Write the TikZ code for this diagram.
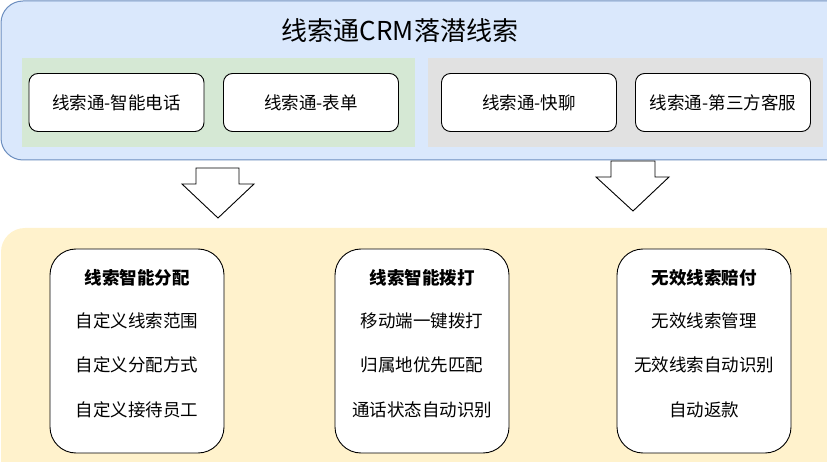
\documentclass[tikz,border=0pt]{standalone}
\usepackage{fontspec}
\setmainfont{Noto Sans CJK SC}
\usetikzlibrary{positioning}
\definecolor{blueFill}{HTML}{DAE8FC}
\definecolor{blueLine}{HTML}{6C8EBF}
\definecolor{greenFill}{HTML}{D5E8D4}
\definecolor{grayFill}{HTML}{E1E1E1}
\definecolor{yellowFill}{HTML}{FFF2CC}
\tikzset{
  card/.style={draw=black, fill=white, rounded corners=9pt, line width=0.9pt, minimum width=175pt, minimum height=58pt, inner sep=0pt, font=\fontsize{17.5pt}{20pt}\selectfont},
  panel/.style={draw=black, fill=white, rounded corners=26pt, line width=0.9pt, minimum width=174pt, minimum height=204pt, inner sep=0pt},
  headtxt/.style={font=\fontsize{17.5pt}{20pt}\selectfont\bfseries, inner sep=0pt},
  itemtxt/.style={font=\fontsize{17.5pt}{20pt}\selectfont, inner sep=0pt},
  blockarrow/.style={draw=black, fill=white, line width=0.9pt, line join=miter}
}
\begin{document}
\begin{tikzpicture}[x=1pt,y=-1pt]
\useasboundingbox (0,0) rectangle (827,462);
\clip (0,0) rectangle (827,462);
% top container
\draw[fill=blueFill, draw=blueLine, line width=1pt, rounded corners=22pt] (1,1) rectangle (860,160);
\node[font=\fontsize{26pt}{30pt}\selectfont, inner sep=0pt] (title) at (400,31) {线索通CRM落潜线索};
\fill[greenFill] (22,58) rectangle (415,147);
\fill[grayFill] (428,58) rectangle (823,147);
\node[card] (c1) at (116.5,102.5) {线索通-智能电话};
\node[card] (c2) at (311,102.5) {线索通-表单};
\node[card] (c3) at (529,102.5) {线索通-快聊};
\node[card] (c4) at (723,102.5) {线索通-第三方客服};
% bottom container
\fill[yellowFill, rounded corners=24pt] (1,228) rectangle (860,500);
% block arrows
\draw[blockarrow] (196,168) -- (239,168) -- (239,184) -- (254,184) -- (218,218) -- (182,184) -- (196,184) -- cycle;
\draw[blockarrow] (611,161) -- (655,161) -- (655,177) -- (669,177) -- (633,211) -- (596,177) -- (611,177) -- cycle;
% panels
\node[panel] (p1) at (137,351) {};
\node[panel] (p2) at (422,351) {};
\node[panel] (p3) at (704,351) {};
\node[headtxt] (h1) at (137,278) {线索智能分配};
\node[itemtxt] (a1) at (137,321) {自定义线索范围};
\node[itemtxt] (a2) at (137,365) {自定义分配方式};
\node[itemtxt] (a3) at (137,410) {自定义接待员工};
\node[headtxt] (h2) at (422,278) {线索智能拨打};
\node[itemtxt] (b1) at (422,321) {移动端一键拨打};
\node[itemtxt] (b2) at (422,365) {归属地优先匹配};
\node[itemtxt] (b3) at (422,410) {通话状态自动识别};
\node[headtxt] (h3) at (704,278) {无效线索赔付};
\node[itemtxt] (d1) at (704,321) {无效线索管理};
\node[itemtxt] (d2) at (704,365) {无效线索自动识别};
\node[itemtxt] (d3) at (704,410) {自动返款};
\end{tikzpicture}
\end{document}
